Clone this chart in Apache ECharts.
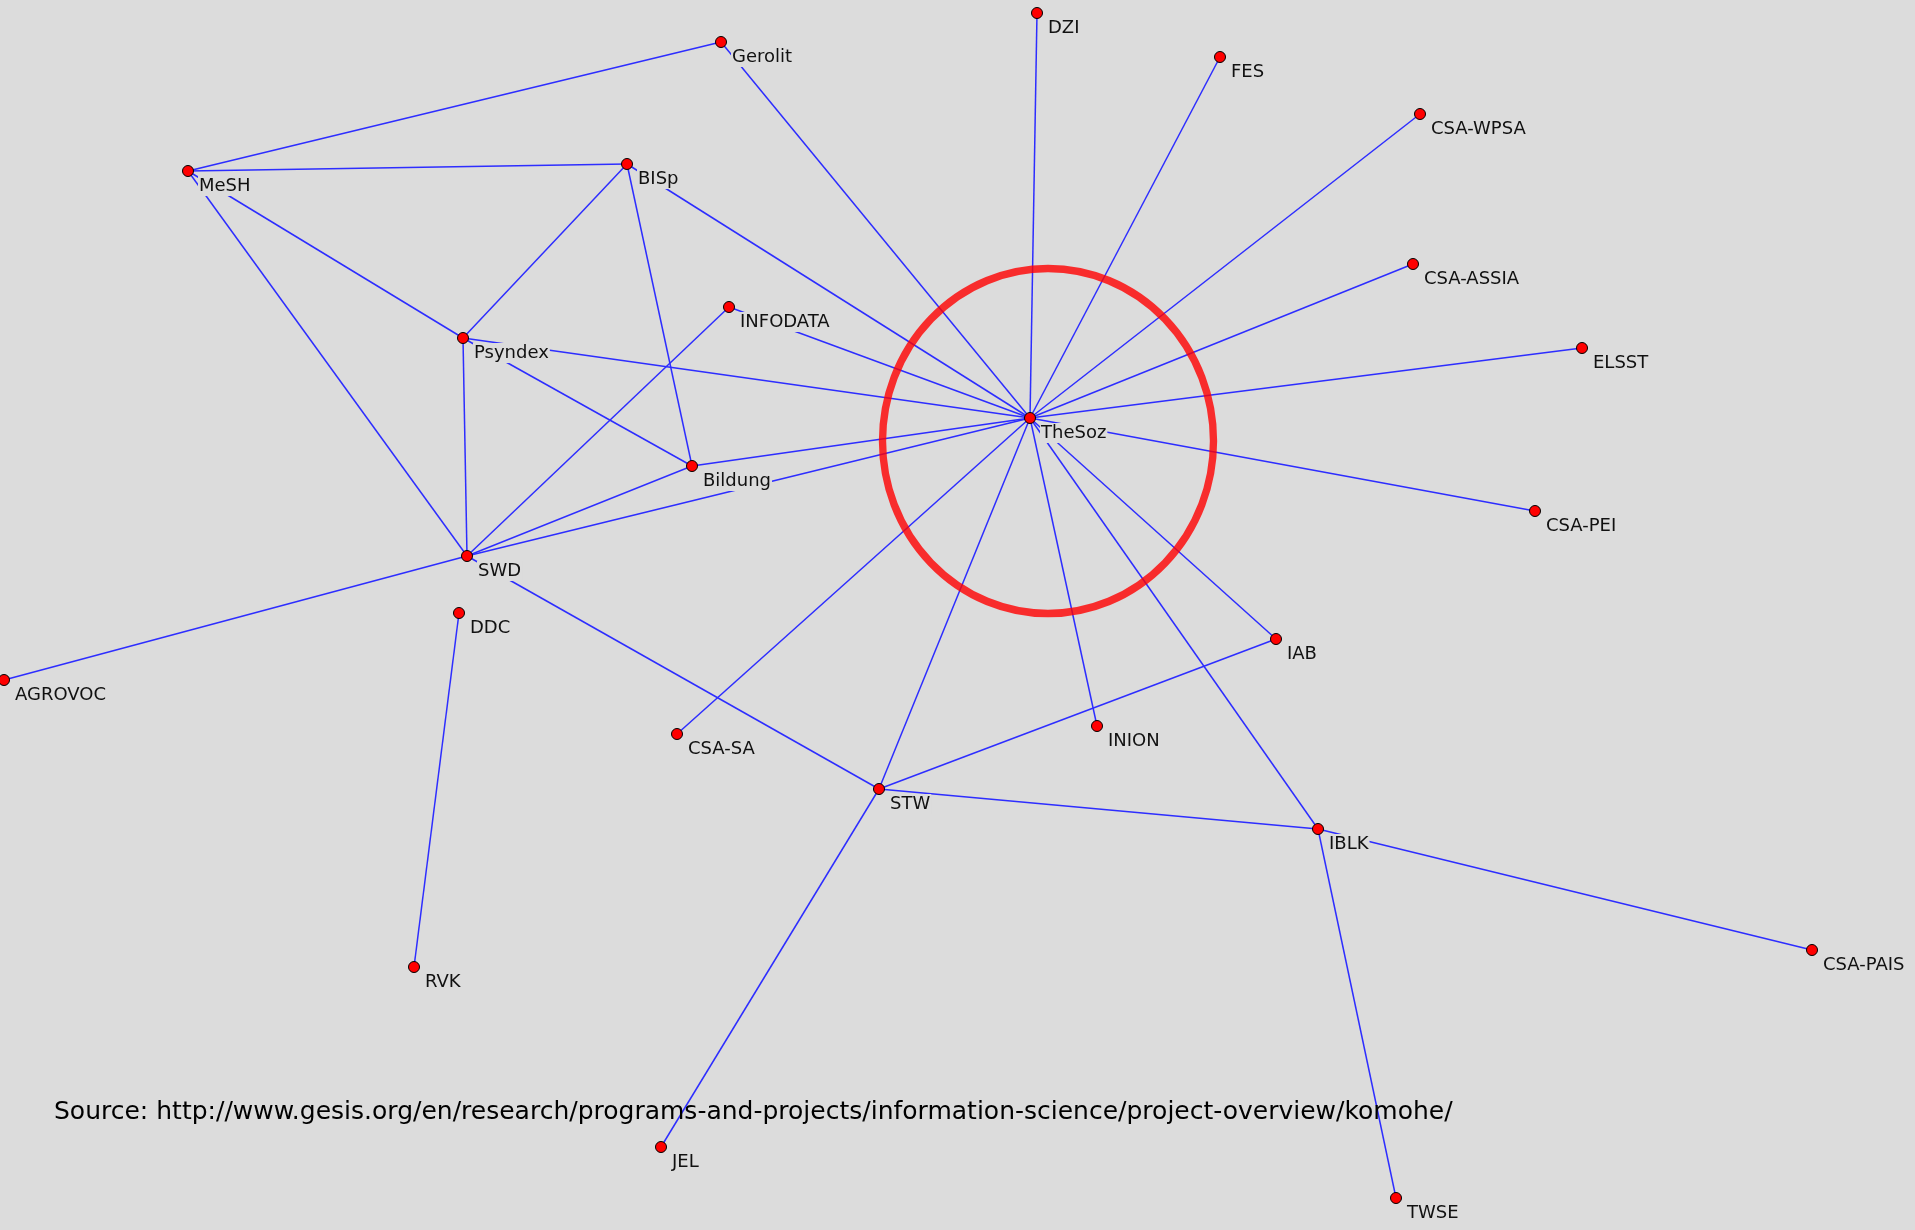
<!DOCTYPE html>
<html>
<head>
<meta charset="utf-8">
<title>KoMoHe thesaurus network</title>
<script src="https://cdn.jsdelivr.net/npm/echarts@6/dist/echarts.min.js"></script>
<style>
  html, body { margin: 0; padding: 0; background: #dcdcdc; }
  #chart { width: 1915px; height: 1230px; }
</style>
</head>
<body>
<div id="chart"></div>
<script>
// node names and their positions (data space = 1915 x 1230, y down)
const nodeNames = ['Gerolit', 'DZI', 'FES', 'CSA-WPSA', 'MeSH', 'BISp', 'CSA-ASSIA', 'INFODATA',
  'Psyndex', 'ELSST', 'TheSoz', 'Bildung', 'CSA-PEI', 'SWD', 'DDC', 'AGROVOC', 'IAB', 'CSA-SA',
  'INION', 'STW', 'IBLK', 'CSA-PAIS', 'RVK', 'JEL', 'TWSE'];
const nodeX = [721, 1037, 1220, 1420, 188, 627, 1413, 729,
  463, 1582, 1030, 692, 1535, 467, 459, 4, 1276, 677,
  1097, 879, 1318, 1812, 414, 661, 1396];
const nodeY = [42, 13, 57, 114, 171, 164, 264, 307,
  338, 348, 418, 466, 511, 556, 613, 680, 639, 734,
  726, 789, 829, 950, 967, 1147, 1198];

// edges (source, target)
const linkPairs = [
  ['MeSH', 'Gerolit'], ['MeSH', 'BISp'], ['MeSH', 'Psyndex'], ['MeSH', 'SWD'],
  ['Gerolit', 'TheSoz'], ['BISp', 'Psyndex'], ['BISp', 'Bildung'], ['BISp', 'TheSoz'],
  ['Psyndex', 'SWD'], ['Psyndex', 'TheSoz'], ['Psyndex', 'Bildung'],
  ['INFODATA', 'SWD'], ['INFODATA', 'TheSoz'], ['Bildung', 'TheSoz'],
  ['SWD', 'Bildung'], ['SWD', 'TheSoz'], ['SWD', 'AGROVOC'], ['SWD', 'STW'],
  ['DZI', 'TheSoz'], ['FES', 'TheSoz'], ['CSA-WPSA', 'TheSoz'], ['CSA-ASSIA', 'TheSoz'],
  ['ELSST', 'TheSoz'], ['CSA-PEI', 'TheSoz'], ['IAB', 'TheSoz'], ['INION', 'TheSoz'],
  ['IBLK', 'TheSoz'], ['STW', 'TheSoz'], ['CSA-SA', 'TheSoz'],
  ['STW', 'IAB'], ['STW', 'IBLK'], ['STW', 'JEL'],
  ['IBLK', 'CSA-PAIS'], ['IBLK', 'TWSE'], ['DDC', 'RVK']
];

// highlight ring around TheSoz
const ringCenter = [1048, 441];

const sourceText = 'Source: http://www.gesis.org/en/research/programs-and-projects/information-science/project-overview/komohe/';

const chart = echarts.init(document.getElementById('chart'));

chart.setOption({
  backgroundColor: '#dcdcdc',
  animation: false,
  title: {
    text: sourceText,
    left: 54,
    top: 1100,
    padding: 0,
    textStyle: {
      fontFamily: 'DejaVu Sans',
      fontSize: 25,
      fontWeight: 'normal',
      color: '#000'
    }
  },
  grid: { left: 0, right: 0, top: 0, bottom: 0 },
  xAxis: { type: 'value', min: 0, max: 1915, show: false },
  yAxis: { type: 'value', min: 0, max: 1230, inverse: true, show: false },
  series: [
    {
      type: 'graph',
      coordinateSystem: 'cartesian2d',
      symbol: 'circle',
      symbolSize: 11,
      itemStyle: {
        color: '#ff0000',
        borderColor: '#000',
        borderWidth: 1
      },
      lineStyle: {
        color: '#2d2dff',
        width: 1.5,
        opacity: 1,
        curveness: 0
      },
      label: {
        show: true,
        position: 'right',
        distance: 4,
        offset: [0, 15],
        fontFamily: 'DejaVu Sans',
        fontSize: 18,
        color: '#111',
        backgroundColor: '#dcdcdc',
        padding: [1, 1]
      },
      emphasis: { disabled: true },
      data: nodeNames.map((name, i) => ({ name, value: [nodeX[i], nodeY[i]] })),
      links: linkPairs.map(([source, target]) => ({ source, target })),
      z: 2
    },
    {
      type: 'scatter',
      symbol: 'circle',
      symbolSize: [331, 345],
      itemStyle: {
        color: 'rgba(0,0,0,0)',
        borderColor: '#ff0000',
        borderWidth: 7.5
      },
      silent: true,
      data: [ringCenter],
      z: 3
    }
  ]
});
</script>
</body>
</html>
